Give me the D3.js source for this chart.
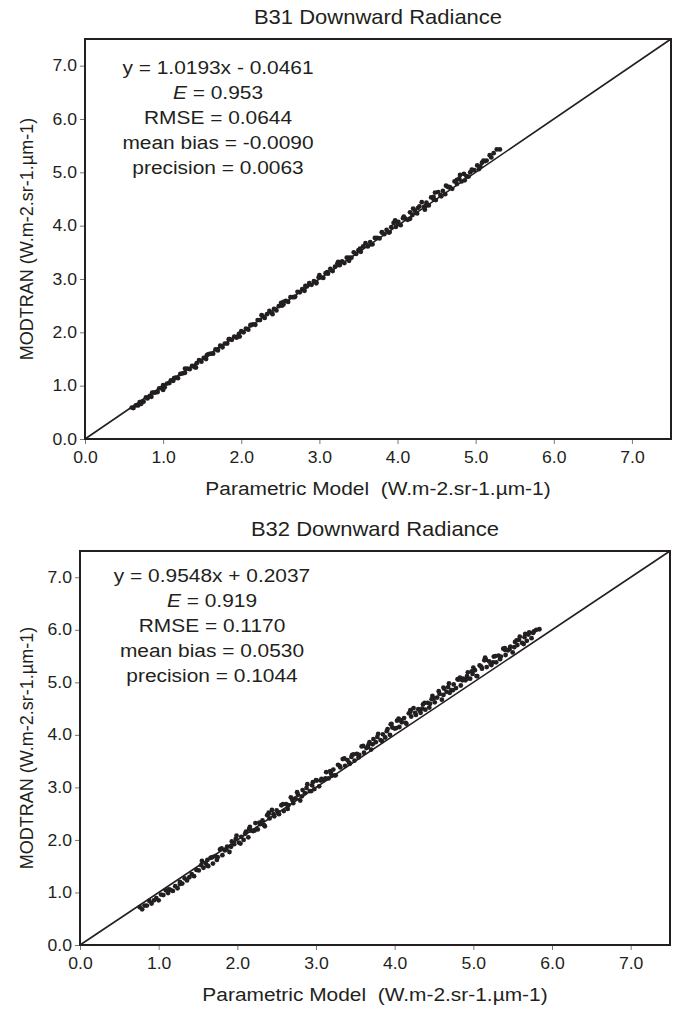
<!DOCTYPE html>
<html>
<head>
<meta charset="utf-8">
<script src="https://cdn.jsdelivr.net/npm/d3@7"></script>
<style>
  body { margin: 0; background: #fff; }
  svg { display: block; }
  text { font-family: "Liberation Sans", Arial, sans-serif; fill: #231f20; white-space: pre; }
</style>
</head>
<body>
<div id="chart"></div>
<script>
// values (W.m-2.sr-1.um-1)
const b31X = [0.60,0.62,0.65,0.68,0.70,0.73,0.75,0.78,0.80,0.83,0.85,0.88,0.90,0.93,0.95,0.98,1.00,1.02,1.05,1.08,
  1.10,1.13,1.16,1.19,1.22,1.25,1.28,1.31,1.34,1.37,1.40,1.43,1.46,1.49,1.52,1.55,1.58,1.61,1.64,1.67,
  1.70,1.73,1.76,1.79,1.82,1.85,1.88,1.91,1.94,1.97,2.00,2.03,2.06,2.09,2.12,2.15,2.18,2.21,2.24,2.27,
  2.30,2.33,2.36,2.39,2.42,2.45,2.48,2.51,2.54,2.57,2.60,2.63,2.66,2.69,2.72,2.75,2.78,2.81,2.84,2.87,
  2.90,2.93,2.96,2.99,3.02,3.05,3.08,3.11,3.14,3.17,3.20,3.23,3.26,3.29,3.32,3.35,3.38,3.41,3.44,3.47,
  3.50,3.53,3.56,3.59,3.62,3.65,3.68,3.71,3.74,3.77,3.80,3.83,3.86,3.89,3.92,3.95,3.98,4.01,4.04,4.07,
  4.10,4.13,4.16,4.19,4.22,4.25,4.28,4.31,4.34,4.37,4.40,4.43,4.46,4.49,4.52,4.55,4.58,4.61,4.64,4.67,
  4.70,4.73,4.76,4.79,4.82,4.85,4.88,4.91,4.95,4.98,5.02,5.06,5.10,5.14,5.18,5.23,5.27,5.31,
  3.97,4.20,4.35,4.48,4.62,4.80,4.93,5.08,5.20,2.52,3.00,
  0.72,0.86,1.00,1.14,1.28,1.42,1.56,1.70,1.84,1.98,2.12,2.26,2.40,2.54,2.68,2.82,2.96,3.10,3.24,3.38,
  3.52,3.66,3.80,3.90,4.00,4.08,4.16,4.26,4.36,4.46,4.56,4.66,4.76,4.86,4.96,5.04,5.12];
const b31Y = [0.59,0.58,0.63,0.63,0.69,0.70,0.70,0.78,0.76,0.81,0.79,0.87,0.87,0.88,0.95,0.95,1.01,0.97,1.04,1.05,
  1.10,1.09,1.15,1.14,1.22,1.23,1.24,1.32,1.31,1.37,1.35,1.42,1.48,1.45,1.52,1.50,1.59,1.60,1.60,1.68,
  1.68,1.75,1.72,1.79,1.79,1.87,1.86,1.92,1.90,1.97,2.02,2.00,2.07,2.05,2.14,2.15,2.14,2.23,2.23,2.31,
  2.27,2.34,2.40,2.37,2.44,2.41,2.49,2.55,2.52,2.59,2.57,2.66,2.66,2.67,2.76,2.75,2.81,2.78,2.86,2.92,
  2.89,2.96,2.94,3.03,3.03,3.02,3.11,3.10,3.19,3.15,3.23,3.29,3.26,3.33,3.30,3.40,3.40,3.40,3.50,3.47,
  3.54,3.51,3.61,3.67,3.61,3.69,3.65,3.77,3.77,3.76,3.88,3.84,3.92,3.87,3.97,4.05,3.98,4.07,4.01,4.14,
  4.13,4.11,4.25,4.20,4.28,4.23,4.36,4.44,4.35,4.43,4.38,4.53,4.50,4.48,4.63,4.57,4.65,4.59,4.73,4.72,
  4.69,4.83,4.78,4.88,4.83,4.97,4.93,4.92,5.05,5.04,5.13,5.11,5.22,5.22,5.32,5.36,5.43,5.43,
  4.10,4.32,4.30,4.62,4.75,4.95,5.00,5.18,5.28,2.50,3.07,
  0.66,0.87,0.92,1.14,1.32,1.34,1.57,1.66,1.87,1.92,2.13,2.32,2.34,2.57,2.66,2.87,2.92,3.13,3.32,3.34,
  3.57,3.65,3.87,3.88,4.05,4.17,4.13,4.33,4.37,4.54,4.55,4.72,4.86,4.85,5.04,5.06,5.21];

const b32X = [0.76,0.79,0.82,0.85,0.88,0.91,0.94,0.97,1.00,1.03,1.06,1.09,1.12,1.15,1.18,1.21,1.24,1.27,1.30,1.33,
  1.36,1.39,1.42,1.45,1.48,1.51,1.54,1.57,1.60,1.63,1.66,1.69,1.72,1.75,1.78,1.81,1.84,1.87,1.90,1.93,
  1.96,1.99,2.02,2.05,2.08,2.11,2.14,2.17,2.20,2.23,2.26,2.29,2.32,2.35,2.38,2.41,2.44,2.47,2.50,2.53,
  2.56,2.59,2.62,2.65,2.68,2.71,2.74,2.77,2.80,2.83,2.86,2.89,2.92,2.95,2.98,3.01,3.04,3.07,3.10,3.13,
  3.16,3.19,3.22,3.25,3.28,3.31,3.34,3.37,3.40,3.43,3.46,3.49,3.52,3.55,3.58,3.61,3.64,3.67,3.70,3.73,
  3.76,3.79,3.82,3.85,3.88,3.91,3.94,3.97,4.00,4.03,4.06,4.09,4.12,4.15,4.18,4.21,4.24,4.27,4.30,4.33,
  4.36,4.39,4.42,4.45,4.48,4.51,4.54,4.57,4.60,4.63,4.66,4.69,4.72,4.75,4.78,4.81,4.84,4.87,4.90,4.93,
  4.96,4.99,5.02,5.05,5.08,5.11,5.14,5.17,5.20,5.23,5.26,5.29,5.32,5.35,5.38,5.41,5.44,5.47,5.50,5.53,
  5.56,5.59,5.62,5.65,5.68,5.71,5.74,5.77,5.80,5.84,
  1.13,1.27,1.55,1.62,2.15,2.40,2.70,2.96,3.20,3.45,3.68,3.95,4.05,4.20,4.35,4.47,4.62,4.70,4.83,4.92,
  5.00,5.15,5.25,5.40,5.55,5.66,
  1.62,1.68,1.74,1.80,1.86,1.92,1.98,2.04,2.10,2.16,2.22,2.28,2.34,2.40,2.46,2.52,2.58,2.64,2.70,2.76,
  2.82,2.88,2.94,3.00,3.06,3.12,3.18,3.24,3.30,3.36,3.42,3.48,3.54,3.60,3.66,3.72,3.78,3.84,3.90,3.96,
  4.02,4.08,4.14,4.20,4.26,4.32,4.38,4.44,4.50,4.56,4.62,4.68,4.74,4.80,4.86,4.92,4.98,5.04,5.10,5.16,
  5.22,5.28,5.34,5.40,5.46,5.52,5.58,5.64,5.70,5.76];
const b32Y = [0.72,0.68,0.75,0.75,0.84,0.79,0.85,0.89,0.85,0.96,0.95,1.04,0.99,1.05,1.03,1.12,1.08,1.16,1.17,1.27,
  1.23,1.29,1.35,1.31,1.43,1.42,1.52,1.47,1.55,1.50,1.66,1.55,1.69,1.67,1.82,1.71,1.80,1.87,1.77,1.97,
  1.92,2.08,1.95,2.06,2.00,2.16,2.05,2.18,2.17,2.32,2.20,2.30,2.37,2.26,2.47,2.41,2.57,2.45,2.56,2.49,
  2.66,2.55,2.68,2.66,2.81,2.70,2.79,2.86,2.75,2.95,2.89,3.06,2.93,3.04,2.97,3.13,3.02,3.16,3.14,3.29,
  3.17,3.27,3.34,3.23,3.43,3.38,3.54,3.41,3.52,3.45,3.62,3.51,3.64,3.62,3.78,3.66,3.75,3.82,3.72,3.92,
  3.86,4.02,3.90,4.01,3.95,4.11,4.00,4.14,4.12,4.27,4.15,4.24,4.32,4.21,4.41,4.35,4.51,4.38,4.49,4.42,
  4.58,4.48,4.61,4.59,4.74,4.62,4.71,4.78,4.67,4.88,4.82,4.98,4.85,4.96,4.89,5.05,4.94,5.07,5.04,5.19,
  5.07,5.16,5.23,5.12,5.32,5.26,5.42,5.29,5.40,5.33,5.49,5.38,5.51,5.49,5.64,5.52,5.61,5.68,5.57,5.77,
  5.71,5.87,5.75,5.86,5.79,5.95,5.84,5.97,6.00,6.01,
  1.06,1.20,1.60,1.62,2.21,2.52,2.76,3.10,3.22,3.58,3.86,4.20,4.31,4.47,4.50,4.68,4.90,4.80,5.09,5.12,
  5.28,5.47,5.38,5.62,5.80,5.92,
  1.51,1.67,1.62,1.84,1.82,1.87,2.02,1.93,2.12,2.25,2.18,2.33,2.28,2.50,2.49,2.53,2.68,2.59,2.78,2.91,
  2.83,2.99,2.93,3.14,3.13,3.17,3.31,3.23,3.41,3.55,3.47,3.63,3.57,3.79,3.77,3.82,3.96,3.88,4.07,4.21,
  4.13,4.28,4.23,4.44,4.42,4.46,4.61,4.52,4.70,4.83,4.76,4.91,4.85,5.06,5.04,5.07,5.21,5.12,5.30,5.43,
  5.35,5.50,5.44,5.65,5.63,5.67,5.81,5.73,5.91,5.94];

const tickValues = [0, 1, 2, 3, 4, 5, 6, 7];
const axisMax = 7.5;
const b31Stats = ["y = 1.0193x - 0.0461", "0.953", "RMSE = 0.0644", "mean bias = -0.0090", "precision = 0.0063"];
const b32Stats = ["y = 0.9548x + 0.2037", "0.919", "RMSE = 0.1170", "mean bias = 0.0530", "precision = 0.1044"];
const xLabel = "Parametric Model  (W.m-2.sr-1.\u00b5m-1)";
const yLabel = "MODTRAN (W.m-2.sr-1.\u00b5m-1)";

const width = 676, height = 1012;
const ink = '#231f20';
const stretch = 1.1;

const svg = d3.select('#chart').append('svg')
  .attr('width', width)
  .attr('height', height);

function label(x, y, size, content, anchor) {
  const t = svg.append('text')
    .attr('transform', `translate(${x},${y}) scale(${stretch},1)`)
    .attr('text-anchor', anchor || 'middle')
    .style('font-size', size + 'px');
  if (typeof content === 'string') t.text(content);
  else content(t);
  return t;
}

function drawPanel(p) {
  const x = d3.scaleLinear().domain([0, axisMax]).range([p.left, p.right]);
  const y = d3.scaleLinear().domain([0, axisMax]).range([p.bottom, p.top]);

  // axes with outward ticks
  const gx = svg.append('g')
    .attr('transform', `translate(0,${p.bottom})`)
    .call(d3.axisBottom(x).tickValues(tickValues).tickFormat(d3.format('.1f')).tickSize(5).tickPadding(8));
  const gy = svg.append('g')
    .attr('transform', `translate(${p.left},0)`)
    .call(d3.axisLeft(y).tickValues(tickValues).tickFormat(d3.format('.1f')).tickSize(5).tickPadding(6));
  [gx, gy].forEach(g => {
    g.select('.domain').remove();
    g.selectAll('line').attr('stroke', '#777').attr('stroke-width', 1);
    g.selectAll('text')
      .style('font-size', '16px')
      .style('font-family', '"Liberation Sans", Arial, sans-serif')
      .attr('fill', ink);
  });
  gx.selectAll('text').attr('transform', `scale(${stretch},1)`);
  gy.selectAll('text').attr('transform', `scale(${stretch},1)`).attr('x', -8 / stretch);

  // 1:1 line
  svg.append('line')
    .attr('x1', x(0)).attr('y1', y(0))
    .attr('x2', x(axisMax)).attr('y2', y(axisMax))
    .attr('stroke', ink).attr('stroke-width', 1.6);

  // points
  svg.append('g').selectAll('circle')
    .data(p.xs.map((v, i) => [v, p.ys[i]]))
    .join('circle')
    .attr('cx', d => x(d[0]))
    .attr('cy', d => y(d[1]))
    .attr('r', 2.4)
    .attr('fill', ink);

  // frame
  svg.append('rect')
    .attr('x', p.left).attr('y', p.top)
    .attr('width', p.right - p.left).attr('height', p.bottom - p.top)
    .attr('fill', 'none').attr('stroke', ink).attr('stroke-width', 2);

  // title
  label((p.left + p.right) / 2, p.top - 15, 20, p.title);

  // statistics block
  p.stats.forEach((s, i) => {
    const yy = p.statsY + i * 25;
    if (i === 1) {
      label(p.statsX, yy, 19, t => {
        t.append('tspan').style('font-style', 'italic').text('E');
        t.append('tspan').text(' = ' + s);
      });
    } else {
      label(p.statsX, yy, 19, s);
    }
  });

  // axis titles
  label((p.left + p.right) / 2, p.bottom + 56, 19, xLabel);
  svg.append('text')
    .attr('transform', `translate(33,${(p.top + p.bottom) / 2}) rotate(-90)`)
    .attr('text-anchor', 'middle')
    .style('font-size', '18px')
    .text(yLabel);
}

drawPanel({
  title: 'B31 Downward Radiance', xs: b31X, ys: b31Y, stats: b31Stats,
  left: 85, right: 671, top: 39, bottom: 439, statsX: 218, statsY: 74
});
drawPanel({
  title: 'B32 Downward Radiance', xs: b32X, ys: b32Y, stats: b32Stats,
  left: 80, right: 670, top: 551, bottom: 945, statsX: 212, statsY: 582
});
</script>
</body>
</html>
